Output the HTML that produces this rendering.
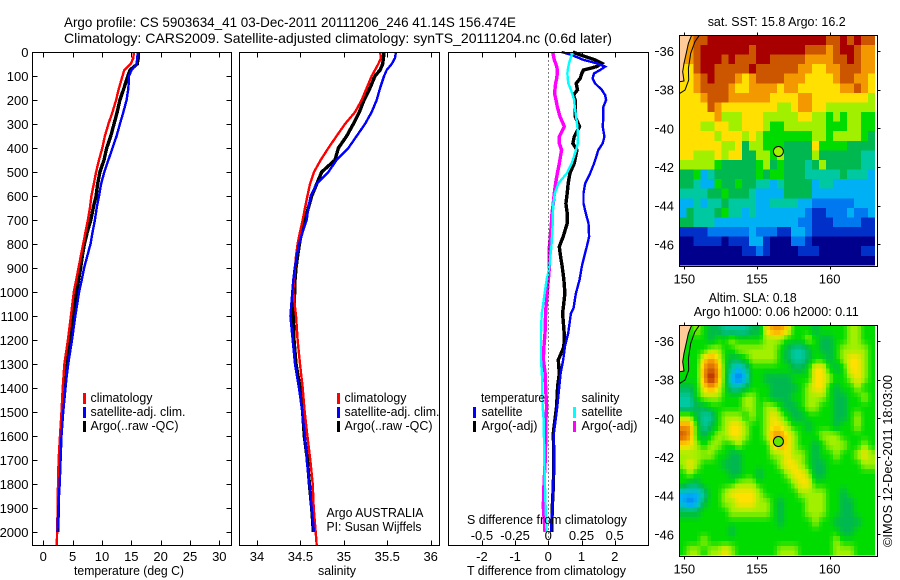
<!DOCTYPE html>
<html lang="en">
<head>
<meta charset="utf-8">
<title>Argo profile</title>
<style>
html,body{margin:0;padding:0;background:#fff;width:900px;height:580px;overflow:hidden}
svg{display:block}
text{font-family:"Liberation Sans",sans-serif;font-size:13px;fill:#000}
</style>
</head>
<body>
<svg id="chart" xmlns="http://www.w3.org/2000/svg" width="900" height="580" viewBox="0 0 900 580">
<g id="heat"></g>
<g id="marks"></g>
<g id="axes"></g>
<text x="64" y="27" font-size="14" style="font-size:14px" textLength="452" lengthAdjust="spacingAndGlyphs">Argo profile: CS 5903634_41 03-Dec-2011 20111206_246 41.14S 156.474E</text>
<text x="64" y="43" style="font-size:14px" textLength="548" lengthAdjust="spacingAndGlyphs">Climatology: CARS2009. Satellite-adjusted climatology: synTS_20111204.nc (0.6d later)</text>
<text x="74" y="575" textLength="110" lengthAdjust="spacingAndGlyphs">temperature (deg C)</text>
<text x="318" y="575" textLength="38" lengthAdjust="spacingAndGlyphs">salinity</text>
<text x="467" y="575" textLength="159" lengthAdjust="spacingAndGlyphs">T difference from climatology</text>
<text x="467" y="524" textLength="160" lengthAdjust="spacingAndGlyphs">S difference from climatology</text>
<g>
<rect x="83" y="393" width="3" height="11" fill="#ff0000"/>
<rect x="83" y="407" width="3" height="11" fill="#0000ff"/>
<rect x="83" y="421" width="3" height="11" fill="#000"/>
<text x="90.5" y="402" textLength="62" lengthAdjust="spacingAndGlyphs">climatology</text>
<text x="90.5" y="416" textLength="95" lengthAdjust="spacingAndGlyphs">satellite-adj. clim.</text>
<text x="90.5" y="430" textLength="88" lengthAdjust="spacingAndGlyphs">Argo(..raw -QC)</text>
</g>
<g>
<rect x="337" y="393" width="3" height="11" fill="#ff0000"/>
<rect x="337" y="407" width="3" height="11" fill="#0000ff"/>
<rect x="337" y="421" width="3" height="11" fill="#000"/>
<text x="344.5" y="402" textLength="62" lengthAdjust="spacingAndGlyphs">climatology</text>
<text x="344.5" y="416" textLength="95" lengthAdjust="spacingAndGlyphs">satellite-adj. clim.</text>
<text x="344.5" y="430" textLength="88" lengthAdjust="spacingAndGlyphs">Argo(..raw -QC)</text>
</g>
<text x="326.5" y="517" textLength="97" lengthAdjust="spacingAndGlyphs">Argo AUSTRALIA</text>
<text x="326.5" y="531" textLength="95" lengthAdjust="spacingAndGlyphs">PI: Susan Wijffels</text>
<g>
<text x="481" y="402" textLength="64" lengthAdjust="spacingAndGlyphs">temperature</text>
<rect x="473" y="407" width="3" height="11" fill="#0000ff"/>
<rect x="473" y="421" width="3" height="11" fill="#000"/>
<text x="481.5" y="416" textLength="41" lengthAdjust="spacingAndGlyphs">satellite</text>
<text x="481.5" y="430" textLength="56" lengthAdjust="spacingAndGlyphs">Argo(-adj)</text>
<text x="581.5" y="402" textLength="38" lengthAdjust="spacingAndGlyphs">salinity</text>
<rect x="573" y="407" width="3" height="11" fill="#00ffff"/>
<rect x="573" y="421" width="3" height="11" fill="#ff00ff"/>
<text x="581.5" y="416" textLength="41" lengthAdjust="spacingAndGlyphs">satellite</text>
<text x="581.5" y="430" textLength="56" lengthAdjust="spacingAndGlyphs">Argo(-adj)</text>
</g>
<text x="707.7" y="26" textLength="138" lengthAdjust="spacingAndGlyphs">sat. SST: 15.8 Argo: 16.2</text>
<text x="708.7" y="302" textLength="88" lengthAdjust="spacingAndGlyphs">Altim. SLA: 0.18</text>
<text x="693.7" y="316" textLength="165" lengthAdjust="spacingAndGlyphs">Argo h1000: 0.06 h2000: 0.11</text>
<text transform="translate(892,547) rotate(-90)" x="0" y="0" textLength="172" lengthAdjust="spacingAndGlyphs">©IMOS 12-Dec-2011 18:03:00</text>
</svg>
<script>
/* ---------- profile data ---------- */
const profileDepths = [0,25,50,75,100,150,200,250,300,350,400,450,500,550,600,650,700,750,800,850,900,950,1000,1100,1200,1300,1400,1500,1600,1700,1800,1900,2000,2055];
const tempClim = [15.45,15.34,14.9,13.8,13.5,12.9,12.4,11.8,11.1,10.5,10.05,9.5,9.0,8.6,8.2,7.95,7.6,7.2,6.8,6.4,6.0,5.6,5.2,4.7,4.2,3.6,3.3,3.1,2.85,2.6,2.5,2.45,2.35,2.3];
const tempArgo = [16.2,16.2,16.0,14.8,14.4,13.75,13.05,12.6,12.05,11.5,10.8,10.35,9.65,9.25,9.0,8.5,8.1,7.5,7.0,6.65,6.35,6.0,5.7,5.2,4.65,4.1,3.7,3.3,2.95,2.7,2.6,2.55,2.45];
const tempSat = [16.1,16,15.9,15.05,14.6,14.5,14.2,13.65,13.05,12.5,11.8,11.1,10.4,9.85,9.5,9.1,8.8,8.4,8.05,7.5,6.95,6.55,6.1,5.45,4.9,4.25,3.75,3.4,3.1,2.95,2.8,2.55,2.4];
const salClim = [35.417,35.428,35.397,35.359,35.321,35.263,35.205,35.129,35.013,34.917,34.822,34.733,34.656,34.61,34.58,34.553,34.526,34.495,34.468,34.449,34.438,34.426,34.418,34.449,34.468,34.495,34.526,34.549,34.58,34.614,34.641,34.653,34.676,34.687];
const salArgo = [35.463,35.455,35.447,35.417,35.359,35.301,35.232,35.179,35.109,35.033,34.937,34.898,34.745,34.687,34.63,34.591,34.553,34.514,34.488,34.468,34.449,34.438,34.434,34.418,34.426,34.449,34.495,34.526,34.545,34.58,34.603,34.63,34.649];
const salSat = [35.601,35.589,35.551,35.493,35.463,35.417,35.378,35.321,35.244,35.148,35.052,34.917,34.822,34.687,34.618,34.591,34.572,34.526,34.484,34.457,34.434,34.418,34.407,34.384,34.411,34.438,34.484,34.522,34.553,34.572,34.603,34.63,34.656];
const diffDepths = [0,12,33,47,61,75,89,110,131,158,179,200,228,269,311,353,381,408,464,506,547,589,631,672,714,769,811,853,894,950,1006,1068,1089,1172,1228,1283,1339,1394,1478,1533,1589,1700,1811,1894,2000];
const tDiffSat = [.40,.70,1.06,1.46,1.71,1.56,1.38,1.33,1.41,1.61,1.71,1.74,1.66,1.66,1.64,1.69,1.64,1.51,1.38,1.26,1.11,1.06,1.06,1.13,1.21,1.23,1.16,1.08,1.01,.94,.83,.76,.68,.60,.50,.45,.37,.33,.27,.22,.17,.17,.15,.12,.08];
const tDiffArgo = [.74,.96,1.41,1.61,1.46,1.06,1.01,.96,.84,.88,.76,.81,.81,.81,.94,.78,.74,.86,.78,.65,.60,.57,.53,.57,.57,.45,.33,.37,.42,.47,.50,.45,.43,.48,.47,.30,.33,.28,.25,.20,.15,.17,.15,.12,.10];
const sDiffArgo = [.033,.038,.045,.055,.063,.068,.068,.063,.055,.05,.05,.058,.068,.088,.121,.083,.083,.1,.083,.068,.055,.045,.038,.028,.023,.015,.008,.005,.008,0,-.008,-.018,-.02,-.025,-.033,-.038,-.023,-.02,-.013,-.018,-.018,-.023,-.033,-.038,-.025];
const sDiffSat = [.184,.176,.164,.156,.151,.146,.144,.146,.151,.171,.184,.194,.199,.209,.219,.224,.222,.209,.176,.139,.076,.05,.038,.035,.033,.028,.023,.015,.008,-.013,-.028,-.043,-.05,-.055,-.055,-.055,-.048,-.045,-.043,-.035,-.033,-.03,-.025,-.02,-.013];
/* ---------- tick labels ---------- */
const depthTicks = [0,100,200,300,400,500,600,700,800,900,1000,1100,1200,1300,1400,1500,1600,1700,1800,1900,2000];
const tempTicks = [0,5,10,15,20,25,30];
const salTicks = [34,34.5,35,35.5,36];
const tDiffTicks = [-2,-1,0,1,2];
const sDiffTicks = [-0.5,-0.25,0,0.25,0.5];
const lonTicks = [150,155,160];
const latTicks = [36,38,40,42,44,46];
/* ---------- map data (colour level on a 0-11 scale) ---------- */
const argoLon = 156.474;
const argoLat = 41.2;
const argoSstLevel = 7;
const argoSlaLevel = 6.6;
const coastEastLon = [151.03,150.73,150.44,150.28,150.3,150.05,149.7];
const coastEastLat = [35.19,35.52,36.12,36.9,37.5,38.02,38.19];
const coastLandLon = [150.5,150.28,150.16,149.98,149.89,149.98,149.66];
const coastLandLat = [35.19,35.6,36.03,36.64,37.07,37.55,37.59];
const sstGrid = [
[9,9,10,10,11,11,11,11,11,11,11,11,11,11,11,11,11,11,11,11,11,10,10,11,10,11,10,10],
[9,9,10,11,11,11,11,11,11,11,10,11,11,11,11,11,11,11,10,10,10,9,10,11,11,10,9,9],
[9,9,10,11,11,11,10,11,10,10,10,11,11,10,10,10,10,10,9,9,9,9,10,10,11,10,9,9],
[8,8,10,11,11,10,10,10,10,10,11,10,10,10,10,10,10,9,9,8,8,9,9,10,10,10,9,9],
[8,8,9,10,11,10,10,10,9,8,9,10,10,10,10,9,9,9,8,8,8,8,9,10,10,9,9,8],
[8,8,9,10,10,10,10,9,8,8,9,9,9,9,8,9,9,8,8,8,8,8,8,9,9,10,9,8],
[8,8,8,9,10,10,10,9,9,9,9,9,9,8,8,8,8,9,9,8,8,8,8,8,8,8,8,7],
[8,8,8,8,10,9,8,8,8,8,8,8,8,8,7,7,8,9,9,8,8,7,7,7,7,7,7,7],
[8,8,8,8,8,9,7,7,7,8,8,8,7,7,7,7,7,8,8,7,7,6,7,6,7,7,6,6],
[8,8,8,7,7,8,8,7,7,8,8,8,7,6,6,7,7,7,7,7,7,6,6,6,7,7,6,6],
[8,8,8,8,8,7,8,8,8,7,8,7,6,6,6,6,6,6,6,7,7,6,7,7,7,7,6,5],
[8,8,8,8,8,8,7,7,8,5,7,7,6,6,6,5,5,5,5,8,6,6,6,6,5,5,5,5],
[8,8,7,7,7,8,7,8,8,5,5,7,7,6,7,5,5,5,5,7,5,5,5,5,5,5,4,4],
[7,7,7,7,7,6,5,5,5,5,5,6,7,5,6,5,5,5,4,5,7,5,5,5,5,5,4,4],
[5,5,6,3,4,5,5,5,5,5,5,6,5,6,6,5,5,5,4,4,4,4,4,5,4,4,4,3],
[5,5,4,3,3,6,5,5,6,5,5,4,4,3,4,5,5,5,5,3,4,4,3,3,3,3,3,3],
[4,4,4,4,5,5,6,5,5,5,4,3,3,3,3,5,5,5,5,3,3,3,3,3,3,3,3,3],
[3,3,4,3,4,4,5,4,4,4,4,3,3,4,4,4,4,3,3,2,2,2,2,2,2,3,3,3],
[3,5,4,4,4,5,6,4,4,3,4,3,3,3,3,3,3,3,2,1,1,2,2,2,3,2,2,3],
[5,5,4,4,4,3,3,3,3,3,3,3,3,3,3,3,3,2,2,1,1,1,2,2,2,2,1,1],
[1,1,1,1,2,2,2,2,2,2,3,2,2,2,1,1,3,3,2,1,1,1,1,1,1,1,1,1],
[0,0,1,1,1,1,0,1,1,1,3,3,1,0,0,0,2,2,1,0,0,0,0,0,0,0,0,0],
[0,0,0,0,0,0,0,0,0,1,1,2,1,0,0,0,0,1,1,1,0,0,0,0,0,0,1,1],
[0,0,0,0,0,0,0,0,0,0,0,0,0,0,0,0,0,0,0,0,0,0,0,0,0,0,0,0]
];
const slaGrid = [
[6,6,7,6,5,5,4,4,4,4,5,5,8,9,9,8,6,6,6,5,6,6,6,6,7,7,6,6],
[6,6,6,6,5,6,6,7,6,6,6,6,7,7,7,6,6,6,7,6,5,5,6,6,7,7,6,6],
[6,6,6,6,7,7,6,6,7,7,7,7,7,7,6,5,4,4,5,6,5,5,6,7,7,7,7,6],
[6,6,6,8,9,8,6,5,5,6,7,7,7,7,6,5,4,4,5,6,6,5,6,7,8,8,7,6],
[6,6,6,9,10,9,6,4,3,4,6,6,6,6,6,6,5,5,6,8,8,6,5,6,8,8,7,6],
[6,6,6,9,11,9,6,3,2,3,6,6,5,5,5,5,6,6,6,8,8,7,6,6,7,8,7,6],
[5,5,6,8,9,8,6,4,4,5,6,6,6,5,5,5,5,6,7,8,8,6,5,6,6,7,6,6],
[4,4,6,7,7,7,6,6,6,7,7,6,6,5,5,5,6,6,7,7,7,6,5,5,6,6,7,6],
[4,4,5,5,6,6,6,6,6,7,7,6,7,7,6,5,5,6,7,7,6,6,5,5,6,6,6,6],
[7,7,5,4,4,6,7,7,7,6,7,6,7,8,7,6,5,5,6,6,6,6,5,5,6,7,6,6],
[9,9,6,4,5,6,7,8,8,7,6,6,7,8,8,7,6,6,5,6,6,6,5,6,6,7,6,6],
[10,9,6,5,6,7,7,8,8,7,6,6,7,9,9,8,7,6,6,6,7,7,7,6,6,6,6,6],
[8,8,7,6,7,7,6,6,7,6,6,6,6,8,9,8,7,6,6,5,6,7,7,7,6,6,7,6],
[7,7,7,7,7,6,6,5,5,6,6,6,6,7,7,8,7,7,6,5,6,6,7,6,6,7,8,7],
[7,8,7,6,6,6,5,5,5,6,6,6,6,6,7,8,8,7,6,5,5,6,6,6,6,6,7,7],
[6,7,6,6,6,6,6,5,5,6,6,5,6,6,6,7,8,8,7,5,5,6,6,6,6,6,6,6],
[6,5,5,6,6,6,6,6,7,7,7,6,6,6,6,6,7,8,8,6,6,6,6,6,6,6,6,6],
[3,3,3,4,6,6,7,8,8,8,8,7,6,6,6,6,6,7,7,7,7,6,6,5,6,6,6,6],
[3,2,3,5,6,6,7,7,8,8,8,7,7,6,5,6,6,6,7,7,7,6,6,5,5,6,6,6],
[5,5,5,6,6,6,6,7,7,7,7,7,7,6,5,6,6,6,7,7,7,6,6,5,5,6,6,6],
[6,6,6,6,6,6,6,6,6,6,6,6,6,6,5,6,6,6,6,7,6,6,5,5,5,5,6,6],
[6,6,6,6,6,6,6,5,6,6,6,6,6,6,6,6,6,6,6,6,6,6,6,5,5,6,6,6],
[6,6,6,7,6,6,6,6,6,6,6,6,6,6,6,6,6,6,6,6,6,6,7,6,6,6,6,6],
[6,7,7,6,7,7,8,7,6,6,6,6,6,6,7,7,7,6,6,6,6,6,7,7,7,6,6,6]
];
/* ---------- scales ---------- */
const NS = 'http://www.w3.org/2000/svg';
const yDepth = d => 52 + d * 0.24;
const xTemp = t => 43.3 + t * 5.867;
const xSal = s => 257 + (s - 34) * 86.85;
const xTDiff = t => 548.3 + t * 33.2;
const xSDiff = s => 548.3 + s * 132.8;
const xLon = lon => 684.3 + (lon - 150) * 14.53;
const yLat1 = lat => 51 + (lat - 36) * 19.33;
const yLat2 = lat => 341 + (lat - 36) * 19.33;
const palette = ['#00008c','#0030c8','#0078f0','#00b0f4','#00c8a0','#00b850','#00dc00','#a0f000','#ffe000','#f49800','#cc5500','#a80000'];
const levelColor = v => {
  const i = Math.max(0, Math.min(10, Math.floor(v)));
  const f = Math.max(0, Math.min(1, v - i));
  const a = palette[i], b = palette[i + 1];
  const ch = k => Math.round(parseInt(a.substr(k, 2), 16) * (1 - f) + parseInt(b.substr(k, 2), 16) * f);
  return 'rgb(' + ch(1) + ',' + ch(3) + ',' + ch(5) + ')';
};
const marks = document.getElementById('marks');
const axes = document.getElementById('axes');
const heat = document.getElementById('heat');

function mkLine(parent, x1, y1, x2, y2, name) {
  const el = document.createElementNS(NS, 'line');
  
  
  el.setAttribute('x1', x1); el.setAttribute('y1', y1);
  el.setAttribute('x2', x2); el.setAttribute('y2', y2);
  el.setAttribute('stroke', '#000');
  el.setAttribute('stroke-width', '1');
  el.setAttribute('shape-rendering', 'crispEdges');
  parent.appendChild(el);
  return el;
}
function mkText(str, x, y, anchor, name, rootParent) {
  const el = document.createElementNS(NS, 'text');
  
  
  el.setAttribute('x', x); el.setAttribute('y', y);
  el.setAttribute('text-anchor', anchor);
  el.textContent = str;
  (rootParent || axes).appendChild(el);
}
function mkProfile(xs, depths, xScale, color, width, name) {
  const el = document.createElementNS(NS, 'polyline');
  
  
  el.setAttribute('points', xs.map((v, i) => xScale(v).toFixed(1) + ',' + yDepth(depths[i]).toFixed(1)).join(' '));
  el.setAttribute('fill', 'none');
  el.setAttribute('stroke', color);
  el.setAttribute('stroke-width', width);
  el.setAttribute('stroke-linejoin', 'miter');
  el.setAttribute('shape-rendering', 'crispEdges');
  marks.appendChild(el);
}
function mkBox(x, y, w, h, name) {
  const el = document.createElementNS(NS, 'rect');
  
  
  el.setAttribute('x', x); el.setAttribute('y', y);
  el.setAttribute('width', w); el.setAttribute('height', h);
  el.setAttribute('fill', 'none');
  el.setAttribute('stroke', '#000');
  el.setAttribute('shape-rendering', 'crispEdges');
  axes.appendChild(el);
}
const T = 52.5, B = 545.5;
function xTicks(ticks, scale, baseY, labels, prefix) {
  ticks.forEach(v => {
    const x = Math.round(scale(v)) + 0.5;
    mkLine(axes, x, T, x, T + 5, prefix + '-tick-top');
    mkLine(axes, x, B, x, B - 5, prefix + '-tick-bottom');
    if (labels) mkText(String(v), scale(v), baseY, 'middle', prefix + '-tick-label');
  });
}
/* panels */
mkBox(32.5, T, 199, B - T, 'temperature-axes-box');
mkBox(239.5, T, 200, B - T, 'salinity-axes-box');
mkBox(448.5, T, 200, B - T, 'difference-axes-box');
xTicks(tempTicks, xTemp, 561, true, 'temperature');
xTicks(salTicks, xSal, 561, true, 'salinity');
xTicks(tDiffTicks, xTDiff, 561, true, 't-difference');
sDiffTicks.forEach(v => mkText(String(v), xSDiff(v), 540, 'middle', 's-difference-tick-label'));
depthTicks.forEach(d => {
  const y = Math.round(yDepth(d)) + 0.5;
  mkLine(axes, 32.5, y, 37.5, y, 'depth-tick-left');
  mkLine(axes, 231.5, y, 226.5, y, 'depth-tick-right');
  mkText(String(d), 28.5, yDepth(d) + 5, 'end', 'depth-tick-label');
});
/* zero line */
const zero = mkLine(axes, Math.round(xTDiff(0)) + 0.5, T, Math.round(xTDiff(0)) + 0.5, B, 'zero-difference-line');
zero.setAttribute('stroke-dasharray', '1 3');
/* profile series */
mkProfile(tempArgo, profileDepths, xTemp, '#000000', 3.4, 'temperature-argo-line');
mkProfile(tempClim, profileDepths, xTemp, '#ff0000', 2.4, 'temperature-climatology-line');
mkProfile(tempSat, profileDepths, xTemp, '#0000ff', 2.4, 'temperature-satellite-line');
mkProfile(salArgo, profileDepths, xSal, '#000000', 3.4, 'salinity-argo-line');
mkProfile(salClim, profileDepths, xSal, '#ff0000', 2.4, 'salinity-climatology-line');
mkProfile(salSat, profileDepths, xSal, '#0000ff', 2.4, 'salinity-satellite-line');
mkProfile(sDiffArgo, diffDepths, xSDiff, '#ff00ff', 3.4, 's-difference-argo-line');
mkProfile(tDiffArgo, diffDepths, xTDiff, '#000000', 3.4, 't-difference-argo-line');
mkProfile(tDiffSat, diffDepths, xTDiff, '#0000ff', 2.4, 't-difference-satellite-line');
mkProfile(sDiffSat, diffDepths, xSDiff, '#00ffff', 2.4, 's-difference-satellite-line');
/* maps */
function sampleGrid(grid, r, c) {
  const rows = grid.length, cols = grid[0].length;
  const rr = Math.max(0, Math.min(rows - 1, r)), cc = Math.max(0, Math.min(cols - 1, c));
  const r0 = Math.floor(rr), c0 = Math.floor(cc);
  const r1 = Math.min(rows - 1, r0 + 1), c1 = Math.min(cols - 1, c0 + 1);
  const fr = rr - r0, fc = cc - c0;
  return grid[r0][c0] * (1 - fr) * (1 - fc) + grid[r0][c1] * (1 - fr) * fc + grid[r1][c0] * fr * (1 - fc) + grid[r1][c1] * fr * fc;
}
function drawMap(grid, yLat, argoLevel, prefix, sub) {
  const lonW = 149.66, lonE = 163.12, latN = 35.19, latS = 47.09;
  const rows = grid.length * sub, cols = grid[0].length * sub;
  for (let r = 0; r < rows; r++) {
    for (let c = 0; c < cols; c++) {
      const v = sampleGrid(grid, (r + 0.5) / sub - 0.5, (c + 0.5) / sub - 0.5);
      const x0 = xLon(lonW + (lonE - lonW) * c / cols), x1 = xLon(lonW + (lonE - lonW) * (c + 1) / cols);
      const y0 = yLat(latN + (latS - latN) * r / rows), y1 = yLat(latN + (latS - latN) * (r + 1) / rows);
      const el = document.createElementNS(NS, 'rect');
      
      
      el.setAttribute('x', x0.toFixed(1)); el.setAttribute('y', y0.toFixed(1));
      el.setAttribute('width', (x1 - x0 + 0.3).toFixed(1)); el.setAttribute('height', (y1 - y0 + 0.3).toFixed(1));
      el.setAttribute('fill', levelColor(v));
      el.setAttribute('shape-rendering', 'crispEdges');
      heat.appendChild(el);
    }
  }
  const land = document.createElementNS(NS, 'polygon');
  
  
  const pts = coastLandLon.map((lon, i) => xLon(lon).toFixed(1) + ',' + yLat(coastLandLat[i]).toFixed(1));
  pts.push(xLon(lonW).toFixed(1) + ',' + yLat(latN).toFixed(1));
  land.setAttribute('points', pts.join(' '));
  land.setAttribute('fill', '#ffcc99');
  heat.appendChild(land);
  [[coastLandLon, coastLandLat, 'coast-inner'], [coastEastLon, coastEastLat, 'coast-outer']].forEach(set => {
    const el = document.createElementNS(NS, 'polyline');
    
    
    el.setAttribute('points', set[0].map((lon, i) => xLon(lon).toFixed(1) + ',' + yLat(set[1][i]).toFixed(1)).join(' '));
    el.setAttribute('fill', 'none');
    el.setAttribute('stroke', '#000');
    el.setAttribute('stroke-width', '1');
    heat.appendChild(el);
  });
  const top = Math.round(yLat(latN)) + 0.5, bottom = top + 231;
  mkBox(679.5, top, 198, 231, prefix + '-box');
  lonTicks.forEach(lon => {
    const x = Math.round(xLon(lon)) + 0.5;
    mkLine(axes, x, top, x, top - 3, prefix + '-longitude-tick-top');
    mkLine(axes, x, bottom, x, bottom + 3, prefix + '-longitude-tick-bottom');
    mkText(String(lon), xLon(lon), bottom + 17, 'middle', prefix + '-longitude-label');
  });
  latTicks.forEach(lat => {
    const y = Math.round(yLat(lat)) + 0.5;
    mkLine(axes, 655, y, 659, y, prefix + '-latitude-tick-left');
    mkLine(axes, 877.5, y, 880.5, y, prefix + '-latitude-tick-right');
    mkText(String(lat), 674, yLat(lat) + 5, 'end', prefix + '-latitude-label');
  });
  const dot = document.createElementNS(NS, 'circle');
  
  
  dot.setAttribute('cx', xLon(argoLon).toFixed(1));
  dot.setAttribute('cy', yLat(argoLat).toFixed(1));
  dot.setAttribute('r', '5');
  dot.setAttribute('fill', levelColor(argoLevel));
  dot.setAttribute('stroke', '#000');
  axes.appendChild(dot);
}
drawMap(sstGrid, yLat1, argoSstLevel, 'sst-map', 1);
drawMap(slaGrid, yLat2, argoSlaLevel, 'sla-map', 2);
</script>
</body>
</html>
